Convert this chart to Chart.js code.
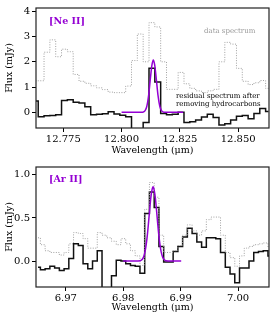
<!DOCTYPE html>
<html>
<head>
<meta charset="utf-8">
<script src="https://cdn.jsdelivr.net/npm/chart.js@4.4.1/dist/chart.umd.min.js"></script>
<style>
  html, body { margin: 0; padding: 0; background: #fff; }
  #wrap { position: relative; width: 274px; height: 319px; }
  canvas { position: absolute; left: 0; }
</style>
</head>
<body>
<div id="wrap">
  <canvas id="neii" width="274" height="159" style="top:0px"></canvas>
  <canvas id="arii" width="274" height="160" style="top:159px"></canvas>
</div>
<script>
// ---- [Ne II] panel ----
const neWave = [12.7630, 12.7655, 12.7680, 12.7705, 12.7730, 12.7755, 12.7780, 12.7805, 12.7830, 12.7855,
  12.7880, 12.7905, 12.7930, 12.7955, 12.7980, 12.8005, 12.8030, 12.8055, 12.8080, 12.8105,
  12.8130, 12.8155, 12.8180, 12.8205, 12.8230, 12.8255, 12.8280, 12.8305, 12.8330, 12.8355,
  12.8380, 12.8405, 12.8430, 12.8455, 12.8480, 12.8505, 12.8530, 12.8555, 12.8580, 12.8605, 12.8630];
const neData = [1.25, 1.25, 2.38, 2.87, 2.2, 2.5, 2.4, 1.5, 1.23, 1.15,
  1.05, 0.97, 0.9, 0.8, 0.78, 0.78, 1.04, 2.05, 3.1, 2.0,
  3.55, 3.38, 2.0, 0.91, 0.91, 1.58, 1.13, 0.95, 0.85, 0.78,
  0.85, 0.91, 2.0, 2.77, 2.7, 1.74, 1.23, 1.1, 1.17, 1.26, 0.95];
const neResid = [0.45, -0.17, -0.14, -0.13, -0.1, 0.47, 0.5, 0.4, 0.37, 0.22,
  -0.1, -0.08, -0.06, 0.02, -0.07, -0.12, -0.17, -0.9, -0.9, -0.4,
  1.75, 1.2, -0.05, -0.1, -0.08, 0.0, -0.4, -0.37, -0.3, -0.18,
  -0.08, -0.2, -0.5, -0.45, -0.3, -0.15, -0.13, -0.25, -0.05, 0.15, 0.03];
const neFitWave = [12.8000, 12.8060, 12.8080, 12.8090, 12.8100, 12.8108, 12.8116, 12.8124, 12.8130, 12.8136,
  12.8142, 12.8148, 12.8156, 12.8164, 12.8172, 12.8182, 12.8200, 12.8264];
const neFitFlux = [0, 0, 0.0003, 0.006, 0.056, 0.23, 0.68, 1.39, 1.87, 2.07,
  1.87, 1.39, 0.68, 0.23, 0.056, 0.006, 0, 0];
const neXTicks = [12.775, 12.800, 12.825, 12.850];
const neYTicks = [0, 1, 2, 3, 4];

// ---- [Ar II] panel ----
const arWave = [6.96515, 6.96598, 6.96680, 6.96763, 6.96846, 6.96928, 6.97011, 6.97093, 6.97176, 6.97259,
  6.97341, 6.97424, 6.97506, 6.97589, 6.97672, 6.97754, 6.97837, 6.97920, 6.98002, 6.98085,
  6.98167, 6.98250, 6.98333, 6.98415, 6.98498, 6.98581, 6.98663, 6.98746, 6.98828, 6.98911,
  6.98994, 6.99076, 6.99159, 6.99241, 6.99324, 6.99407, 6.99489, 6.99572, 6.99654, 6.99737,
  6.99820, 6.99902, 6.99985, 7.00068, 7.00150, 7.00233, 7.00315, 7.00398, 7.00481, 7.00563];
const arData = [0.27, 0.19, 0.12, 0.1, 0.1, 0.07, 0.1, 0.2, 0.33, 0.32,
  0.26, 0.15, 0.15, 0.33, 0.3, 0.27, 0.23, 0.19, 0.26, 0.2,
  0.12, 0.06, -0.05, 0.6, 0.91, 0.74, 0.3, 0.1, 0.1, 0.12,
  0.18, 0.3, 0.42, 0.35, 0.3, 0.35, 0.48, 0.51, 0.51, 0.3,
  0.1, 0.04, -0.06, 0.06, 0.15, 0.17, 0.19, 0.2, 0.21, 0.16];
const arResid = [-0.07, -0.1, -0.09, -0.06, -0.08, -0.11, -0.09, 0.03, 0.2, 0.18,
  -0.03, -0.09, 0.0, 0.12, -0.5, -0.45, -0.17, 0.01, 0.0, -0.03,
  -0.05, -0.06, -0.14, 0.55, 0.8, 0.62, 0.17, -0.01, -0.01, 0.11,
  0.17, 0.28, 0.38, 0.32, 0.22, 0.16, 0.27, 0.27, 0.26, 0.1,
  -0.07, -0.15, -0.25, -0.08, -0.08, 0.0, 0.1, 0.11, 0.12, 0.06];
const arFitWave = [6.9800, 6.9820, 6.9830, 6.9835, 6.9838, 6.9840, 6.9842, 6.9844, 6.9846, 6.9848,
  6.9850, 6.9852, 6.9854, 6.9856, 6.9858, 6.9860, 6.9862, 6.9864, 6.9866, 6.9869,
  6.9874, 6.9884, 6.9901];
const arFitFlux = [0, 0, 0.005, 0.04, 0.11, 0.19, 0.30, 0.44, 0.59, 0.73,
  0.82, 0.86, 0.82, 0.73, 0.59, 0.44, 0.30, 0.19, 0.11, 0.04,
  0.005, 0, 0];
const arXTicks = [6.97, 6.98, 6.99, 7.00];
const arYTicks = [0.0, 0.5, 1.0];

const SERIF = "'DejaVu Serif', serif";
const PURPLE = '#9400d3';

function pts(xs, ys) {
  return xs.map((x, i) => ({ x: x, y: ys[i] }));
}

// draws the box round the plot and the text labels
function panelPlugin(notes) {
  return {
    id: 'panel',
    afterDraw(chart) {
      const { ctx, chartArea: a } = chart;
      ctx.save();
      ctx.strokeStyle = '#222';
      ctx.lineWidth = 1.2;
      ctx.strokeRect(a.left, a.top, a.right - a.left, a.bottom - a.top);
      notes.forEach(n => {
        ctx.font = n.font;
        ctx.fillStyle = n.color;
        ctx.textAlign = 'left';
        ctx.textBaseline = 'middle';
        ctx.fillText(n.text, n.x, n.y);
      });
      ctx.restore();
    }
  };
}

function makePanel(id, o) {
  new Chart(document.getElementById(id), {
    type: 'line',
    data: {
      datasets: [
        {
          data: pts(o.fitX, o.fitY),
          borderColor: PURPLE, borderWidth: 1.5,
          pointRadius: 0, cubicInterpolationMode: 'monotone'
        },
        {
          data: pts(o.wave, o.data),
          borderColor: '#a0a0a0', borderWidth: 1, borderDash: [1, 1.5],
          pointRadius: 0, stepped: 'middle'
        },
        {
          data: pts(o.wave, o.resid),
          borderColor: '#111', borderWidth: 1.5,
          pointRadius: 0, stepped: 'middle'
        }
      ]
    },
    options: {
      responsive: false,
      devicePixelRatio: 1,
      animation: false,
      layout: { padding: { left: 0, right: 5, top: 5, bottom: 0 } },
      plugins: { legend: { display: false }, tooltip: { enabled: false } },
      scales: {
        x: {
          type: 'linear', min: o.xmin, max: o.xmax,
          afterBuildTicks: s => { s.ticks = o.xTicks.map(v => ({ value: v })); },
          afterFit: s => { s.height = o.xh; },
          ticks: {
            callback: v => v.toFixed(o.xdec), color: '#000', padding: 1,
            maxRotation: 0, autoSkip: false, font: { family: SERIF, size: 10 }
          },
          grid: { drawOnChartArea: false, tickLength: 4, color: '#000' },
          border: { display: false },
          title: {
            display: true, text: 'Wavelength (μm)', color: '#000',
            font: { family: SERIF, size: 9.5 }, padding: { top: 0, bottom: o.titlePad }
          }
        },
        y: {
          min: o.ymin, max: o.ymax,
          afterBuildTicks: s => { s.ticks = o.yTicks.map(v => ({ value: v })); },
          afterFit: s => { s.width = 36; },
          ticks: {
            callback: v => o.ydec ? v.toFixed(o.ydec) : String(v), color: '#000', padding: 2,
            font: { family: SERIF, size: 10 }
          },
          grid: { drawOnChartArea: false, tickLength: 4, color: '#000' },
          border: { display: false },
          title: {
            display: true, text: 'Flux (mJy)', color: '#000',
            font: { family: SERIF, size: 9.5 }, padding: { top: 4, bottom: 0 }
          }
        }
      }
    },
    plugins: [panelPlugin(o.notes)]
  });
}

makePanel('neii', {
  wave: neWave, data: neData, resid: neResid, fitX: neFitWave, fitY: neFitFlux,
  xmin: 12.7633, xmax: 12.8632, ymin: -0.62, ymax: 4.13,
  xTicks: neXTicks, yTicks: neYTicks, xdec: 3, ydec: 0, xh: 31, titlePad: 3,
  notes: [
    { text: '[Ne II]', x: 49, y: 22, font: 'bold 9.5px ' + SERIF, color: PURPLE },
    { text: 'data spectrum', x: 204, y: 31, font: '7px ' + SERIF, color: '#999' },
    { text: 'residual spectrum after', x: 176, y: 96, font: '7px ' + SERIF, color: '#000' },
    { text: 'removing hydrocarbons', x: 176, y: 104, font: '7px ' + SERIF, color: '#000' }
  ]
});

makePanel('arii', {
  wave: arWave, data: arData, resid: arResid, fitX: arFitWave, fitY: arFitFlux,
  xmin: 6.9648, xmax: 7.0054, ymin: -0.30, ymax: 1.09,
  xTicks: arXTicks, yTicks: arYTicks, xdec: 2, ydec: 1, xh: 32, titlePad: 6,
  notes: [
    { text: '[Ar II]', x: 49, y: 21, font: 'bold 9.5px ' + SERIF, color: PURPLE }
  ]
});
</script>
</body>
</html>
